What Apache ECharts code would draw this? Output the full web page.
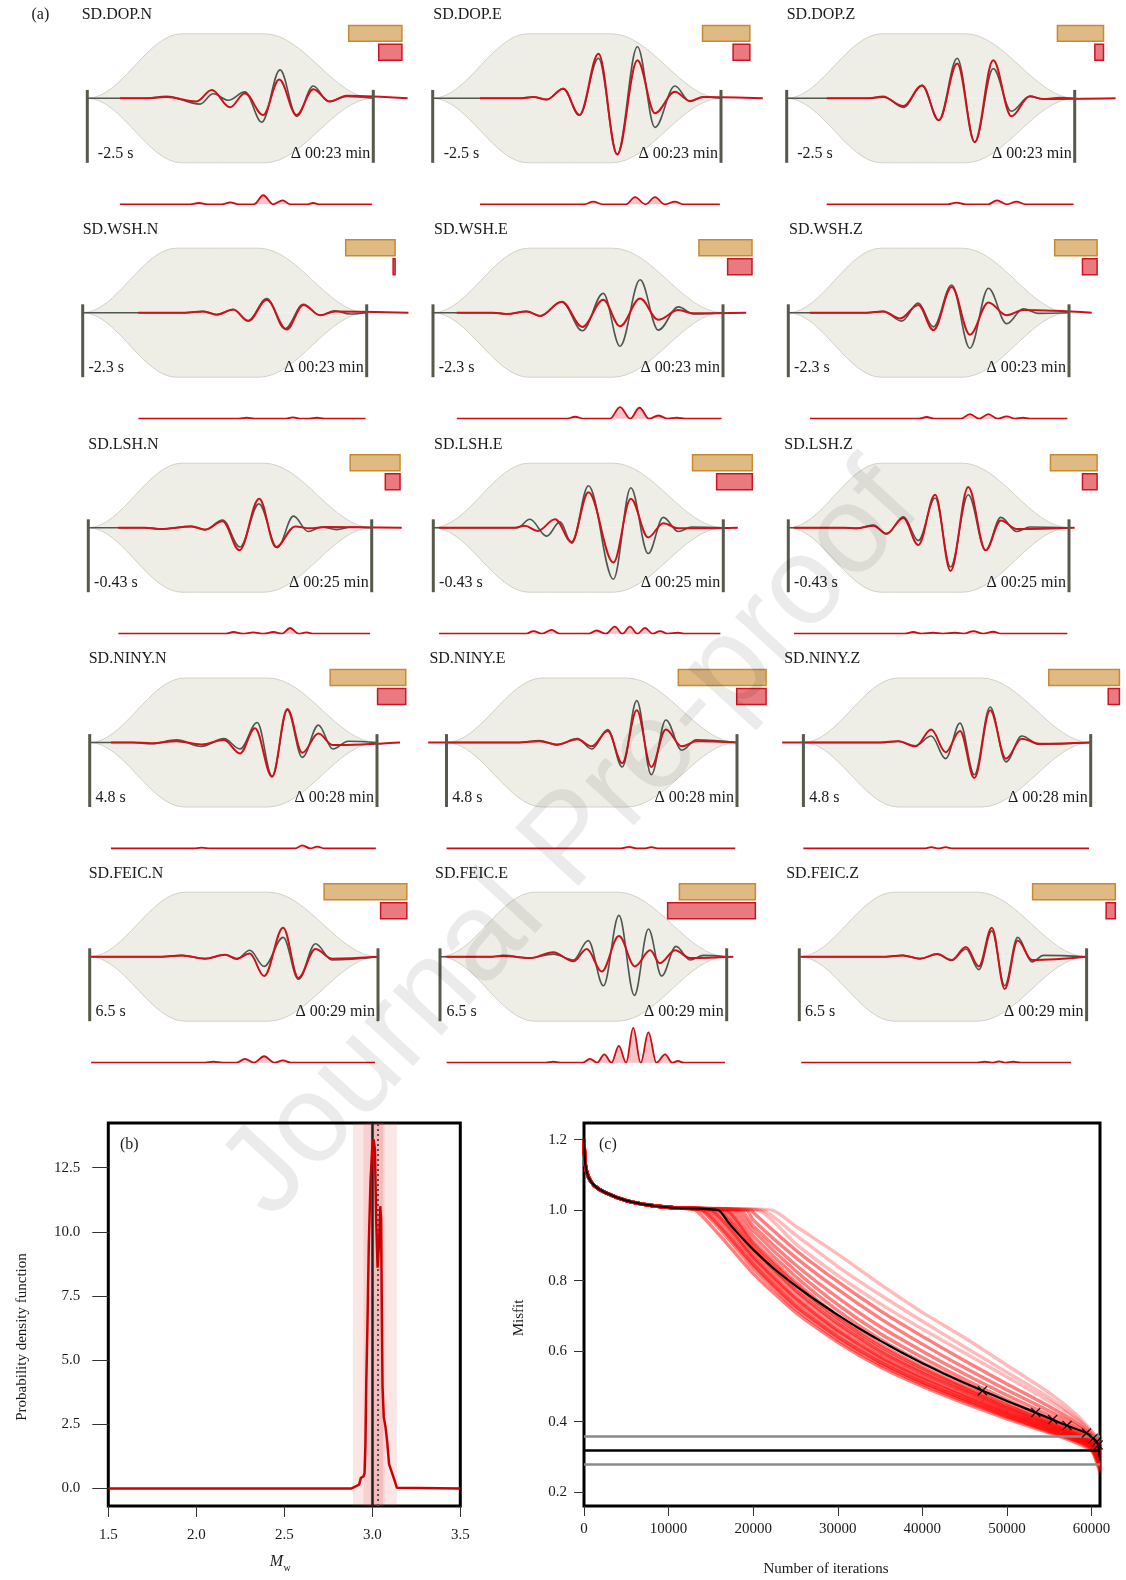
<!DOCTYPE html>
<html><head><meta charset="utf-8">
<script src="https://cdn.jsdelivr.net/npm/echarts@6/dist/echarts.min.js"></script>
<style>html,body{margin:0;padding:0;background:#fff}#c{width:1126px;height:1580px}</style>
</head><body><div id="c"></div>
<script>
// ---------------- DATA ----------------
const STATIONS = ['SD.DOP.N','SD.DOP.E','SD.DOP.Z','SD.WSH.N','SD.WSH.E','SD.WSH.Z','SD.LSH.N','SD.LSH.E','SD.LSH.Z','SD.NINY.N','SD.NINY.E','SD.NINY.Z','SD.FEIC.N','SD.FEIC.E','SD.FEIC.Z'];
const TIME_SHIFTS = ['-2.5 s','-2.5 s','-2.5 s','-2.3 s','-2.3 s','-2.3 s','-0.43 s','-0.43 s','-0.43 s','4.8 s','4.8 s','4.8 s','6.5 s','6.5 s','6.5 s'];
const DURATIONS = ['Δ 00:23 min','Δ 00:23 min','Δ 00:23 min','Δ 00:23 min','Δ 00:23 min','Δ 00:23 min','Δ 00:25 min','Δ 00:25 min','Δ 00:25 min','Δ 00:28 min','Δ 00:28 min','Δ 00:28 min','Δ 00:29 min','Δ 00:29 min','Δ 00:29 min'];
// weight (orange) and misfit (red) bar lengths, % of window
const WEIGHT_BARS = [18.6,16.4,16.0,17.4,18.3,15.1,17.6,20.6,16.6,26.3,30.2,24.6,28.7,26.5,28.8];
const MISFIT_BARS = [8.1,5.8,3.0,0.7,8.4,5.2,5.2,12.3,5.2,9.8,10.1,3.9,9.1,30.6,3.2];
// taper window (time in % of window, relative amplitude)
const TAPER_X = [-0.5,0,33,62,100,100.5];
const TAPER_Y = [0,0,1,1,0,0];

// observed (grey), synthetic (red), residual traces: [time %, amplitude]
const OBS_DOP_N = [[0,0],[20,0],[27.7,0.03],[39.4,-0.09],[44,0.07],[49.3,-0.03],[55.1,0.1],[61,-0.37],[67.4,0.44],[73.2,-0.28],[79,0.19],[84.3,-0.05],[90.7,0.03],[100,0]];
const SYN_DOP_N = [[11.4,0],[20,0],[27.7,0.02],[38.2,-0.05],[43.5,0.13],[49.9,-0.14],[55.1,0.08],[61.5,-0.26],[67.1,0.29],[73.2,-0.26],[79,0.14],[84.8,-0.05],[90.7,0.04],[112,0]];
const RES_DOP_N = [[11.4,0],[36,0],[39,0.02],[42,0],[47,0],[50,0.03],[53,0],[58.3,0],[61.5,0.14],[65,0],[68.3,0.06],[71,0],[77,0],[79,0.02],[81,0],[99.6,0]];

const OBS_DOP_E = [[0,0],[30,0],[34.9,0.02],[39.5,-0.02],[45.3,0.15],[50.9,-0.26],[57.5,0.62],[64,-0.87],[71,0.8],[77.1,-0.45],[84,0.19],[89.2,-0.05],[93.9,0.02],[100,0]];
const SYN_DOP_E = [[16.4,0],[30,0],[34.9,0.02],[39.5,-0.02],[45.3,0.15],[50.9,-0.26],[57.5,0.69],[64,-0.87],[71,0.59],[77.1,-0.23],[84,0.1],[89.2,-0.04],[93.9,0.02],[114.5,0]];
const RES_DOP_E = [[16.4,0],[52.5,0],[55.7,0.04],[59,0],[67,0],[70.2,0.11],[73.8,0],[77.1,0.11],[80.5,0],[84,0.04],[87,0],[99.6,0]];

const OBS_DOP_Z = [[0,0],[28,0],[33.5,0.03],[40.5,-0.14],[47,0.2],[52.8,-0.34],[59.2,0.62],[65.3,-0.68],[71.7,0.46],[78,-0.2],[84.4,0.03],[89,-0.01],[94.8,0.01],[100,0]];
const SYN_DOP_Z = [[13.9,0],[28,0],[33.5,0.02],[40.5,-0.12],[47,0.2],[52.8,-0.34],[59.2,0.54],[65.3,-0.68],[71.7,0.59],[78,-0.28],[84.4,0.03],[89,-0.01],[114.2,0]];
const RES_DOP_Z = [[13.9,0],[56,0],[59,0.026],[62,0],[70,0],[73,0.062],[76.4,0],[79.8,0.04],[83,0],[99.6,0]];

const OBS_WSH_N = [[0,0],[36,0],[42.5,0.02],[47.2,-0.03],[53,0.05],[58.3,-0.12],[64.8,0.22],[71.2,-0.25],[77.7,0.13],[83.6,-0.04],[88.8,0.03],[94.1,-0.02],[100,0]];
const SYN_WSH_N = [[19.6,0],[36,0],[42.5,0.02],[47.2,-0.03],[53,0.05],[58.3,-0.13],[64.8,0.2],[71.8,-0.26],[77.7,0.12],[83.6,-0.04],[88.8,0.02],[114.7,0]];
const RES_WSH_N = [[19.6,0],[55,0],[57.7,0.015],[60.5,0],[71,0],[74,0.02],[77,0],[79.8,0],[82.4,0.015],[85,0],[99.6,0]];

const OBS_WSH_E = [[0,0],[20.7,0],[25.4,-0.02],[32.3,0.02],[36.9,-0.05],[44.4,0.17],[51.5,-0.28],[58.7,0.3],[64.5,-0.52],[71.4,0.51],[77.7,-0.27],[84.6,0.09],[89.8,-0.02],[100,0]];
const SYN_WSH_E = [[8.2,0],[20.7,0],[25.4,-0.02],[32.3,0.02],[36.9,-0.05],[44.4,0.17],[51.5,-0.22],[58.7,0.2],[64.5,-0.21],[71.4,0.22],[77.7,-0.11],[84.6,0.04],[89.8,-0.01],[108,0]];
const RES_WSH_E = [[8.2,0],[46,0],[49,0.03],[52,0],[61,0],[64.5,0.18],[68,0],[71.2,0.17],[74.5,0],[77.7,0.05],[81,0],[84,0.015],[87,0],[99.5,0]];

const OBS_WSH_Z = [[0,0],[28,0],[33.8,0.02],[40.4,-0.13],[46.3,0.15],[51.7,-0.22],[58.2,0.43],[64.7,-0.55],[71.3,0.38],[77.8,-0.17],[83.7,0.06],[89,-0.01],[100,0]];
const SYN_WSH_Z = [[7.7,0],[28,0],[33.8,0.02],[39.8,-0.09],[46.3,0.12],[51.7,-0.27],[58.2,0.4],[64.7,-0.34],[71.3,0.16],[77.8,-0.04],[83.7,0.04],[108.1,0]];
const RES_WSH_Z = [[7.7,0],[46.5,0],[49.3,0.026],[52,0],[61.5,0],[64.7,0.072],[68,0],[71.3,0.072],[74.5,0],[77.8,0.036],[80.8,0],[83.7,0.015],[86,0],[99.4,0]];

const OBS_LSH_N = [[0,0],[20,0],[25.3,-0.02],[36.5,0.02],[41.2,-0.03],[47.4,0.12],[53.5,-0.3],[60.2,0.37],[66.7,-0.31],[72.4,0.18],[77.6,-0.06],[82.4,0.01],[87.6,-0.03],[93,0.01],[100,0]];
const SYN_LSH_N = [[10.6,0],[20,0],[25.3,-0.02],[36.5,0.02],[41.2,-0.03],[47.4,0.1],[53.3,-0.35],[60.3,0.45],[66.2,-0.3],[73,0.02],[78,-0.01],[84,0.01],[110.6,0]];
const RES_LSH_N = [[10.6,0],[48.5,0],[51.2,0.026],[54.5,0],[58.2,0.02],[62,0],[65.3,0.026],[68.3,0],[71.2,0.088],[74.2,0],[77,0.02],[79.5,0],[99.4,0]];

const OBS_LSH_E = [[0,0],[29,0],[33.3,0.13],[39.1,-0.13],[43.7,0.09],[47.7,-0.24],[53.5,0.65],[62.1,-0.8],[68.1,0.62],[74.1,-0.4],[79.3,0.16],[84.5,-0.06],[89.1,0.01],[100,0]];
const SYN_LSH_E = [[2,0],[28,0],[31.5,0.03],[36,-0.05],[42,0.13],[47.7,-0.22],[53.5,0.55],[62.1,-0.54],[68.1,0.45],[74.1,-0.15],[79.3,0.07],[84.5,-0.01],[105,0]];
const RES_LSH_E = [[2,0],[32,0],[34.5,0.04],[37.5,0],[40.8,0.06],[43.5,0],[53.7,0],[56.3,0.05],[59.5,0],[62.6,0.11],[65.2,0],[67.8,0.11],[70.4,0],[73,0.09],[75.6,0],[78.2,0.04],[80.8,0],[84.4,0.015],[86.5,0],[99,0]];

const OBS_LSH_Z = [[0,0],[20,0],[24.3,-0.01],[30.3,0.04],[35,-0.1],[41,0.17],[46.3,-0.2],[52.3,0.46],[57.8,-0.61],[64.1,0.51],[70.3,-0.35],[75.7,0.16],[81.4,-0.06],[86.1,0.01],[100,0]];
const SYN_LSH_Z = [[2,0],[20,0],[24.3,-0.01],[30.3,0.03],[35,-0.09],[41,0.15],[46.3,-0.27],[52.3,0.51],[57.8,-0.67],[64.1,0.63],[70.3,-0.35],[75.7,0.11],[81.4,-0.02],[102,0]];
const RES_LSH_Z = [[2,0],[41.5,0],[44.5,0.026],[47.5,0],[51.7,0.015],[55,0],[59.4,0.015],[62.5,0],[65.9,0.04],[69.5,0],[73,0.03],[76,0],[99.4,0]];

const OBS_NINY_N = [[0,0],[15,0],[21.4,-0.02],[30.2,0.04],[38.9,-0.06],[46.7,0.06],[52.3,-0.1],[58.3,0.31],[63.5,-0.52],[68.8,0.5],[74,-0.23],[79.6,0.27],[84.6,-0.1],[90,0.02],[100,0]];
const SYN_NINY_N = [[7.4,0],[15,0],[21.4,-0.01],[30.2,0.02],[38.9,-0.03],[46.7,0.04],[52.3,-0.17],[57.5,0.22],[63.5,-0.53],[68.8,0.52],[74,-0.16],[79.6,0.14],[84.6,-0.04],[108,0]];
const RES_NINY_N = [[7.4,0],[36,0],[39,0.015],[42,0],[71.5,0],[74,0.05],[76.8,0],[79.2,0.03],[81.8,0],[99.6,0]];

const OBS_NINY_E = [[0,0],[25,0],[32,0.03],[38,-0.04],[45,0.06],[50,-0.1],[55.5,0.2],[60.5,-0.38],[65.5,0.65],[70.5,-0.5],[75.5,0.35],[81,-0.12],[86,0.04],[100,0]];
const SYN_NINY_E = [[-6.3,0],[25,0],[32,0.02],[38,-0.03],[45,0.05],[50,-0.06],[55.5,0.18],[60.5,-0.32],[65.5,0.5],[70.5,-0.38],[75.5,0.2],[81,-0.06],[86,0.02],[100,0]];
const RES_NINY_E = [[0,0],[60,0],[62.8,0.025],[65.5,0],[68,0],[70.5,0.02],[73,0],[99.4,0]];

const OBS_NINY_Z = [[0,0],[27,0],[33,0.02],[39,-0.05],[44.5,0.1],[49.5,-0.25],[54.5,0.3],[59.5,-0.5],[65,0.55],[70.5,-0.3],[76,0.1],[82,-0.03],[100,0]];
const SYN_NINY_Z = [[-7.4,0],[27,0],[33,0.02],[39,-0.06],[44.5,0.2],[49.5,-0.15],[54.5,0.18],[59.5,-0.55],[65,0.5],[70.5,-0.25],[76,0.06],[82,-0.02],[100,0]];
const RES_NINY_Z = [[0,0],[42,0],[44.5,0.02],[47,0],[49.5,0.02],[52,0],[99.4,0]];

const OBS_FEIC_N = [[0,0],[25,0],[32,0.02],[40,-0.03],[47,0.03],[51,-0.04],[55.5,0.1],[60.5,-0.15],[67.1,0.3],[72.4,-0.35],[78.3,0.2],[84,-0.05],[100,0]];
const SYN_FEIC_N = [[0.5,0],[25,0],[32,0.02],[40,-0.03],[47,0.03],[51,-0.03],[55.5,0.05],[60.5,-0.3],[67.1,0.45],[72.4,-0.33],[78.3,0.12],[84,-0.03],[100,0]];
const RES_FEIC_N = [[0.5,0],[40,0],[43,0.015],[46,0],[51,0],[53.8,0.06],[57,0],[60.5,0.1],[64,0],[67,0.035],[70,0],[99,0]];

const OBS_FEIC_E = [[0,0],[18,0],[22.1,0.02],[31.4,-0.02],[39.5,0.04],[46.5,-0.05],[51.7,0.25],[57,-0.45],[62.4,0.64],[67.8,-0.6],[72.7,0.43],[77.3,-0.3],[82.3,0.16],[87.2,-0.05],[91.9,0.02],[100,0]];
const SYN_FEIC_E = [[2.3,0],[18,0],[22.1,0.01],[31.4,-0.02],[39.5,0.07],[46.5,-0.07],[51.2,0.12],[56.4,-0.23],[62.4,0.32],[68,-0.15],[73.3,0.1],[76.7,-0.1],[82,0.1],[87.2,-0.02],[102.3,0]];
const RES_FEIC_E = [[2.3,0],[37,0],[39.5,0.015],[42,0],[49.8,0],[52.3,0.06],[54.8,0],[57.3,0.13],[59.8,0],[62.4,0.26],[64.9,0],[67.4,0.54],[70,0],[72.7,0.47],[75.5,0],[78.5,0.13],[81,0],[83,0.026],[85,0],[99.4,0]];

const OBS_FEIC_Z = [[0,0],[30,0],[36,0.02],[42,-0.03],[48,0.04],[53,-0.06],[58,0.12],[62.5,-0.2],[67,0.4],[71.5,-0.45],[76,0.3],[81,-0.08],[85,0.02],[100,0]];
const SYN_FEIC_Z = [[0.7,0],[30,0],[36,0.02],[42,-0.03],[48,0.04],[53,-0.05],[58,0.15],[62.5,-0.15],[67,0.45],[71.5,-0.5],[76,0.25],[81,-0.05],[100,0]];
const RES_FEIC_Z = [[0.7,0],[62,0],[64.5,0.015],[67,0],[69.5,0.02],[72,0],[74.5,0.015],[77,0],[94.6,0]];

// (b) magnitude PDF
const MW_VALUES  = [1.5,2.88,2.905,2.925,2.935,2.95,2.956,2.961,2.966,2.972,2.98,2.99,3.0,3.008,3.015,3.022,3.03,3.038,3.045,3.05,3.054,3.058,3.065,3.075,3.085,3.095,3.11,3.125,3.14,3.15,3.5];
const PDF_VALUES = [0,0,0.08,0.15,0.42,0.47,0.6,1.7,4.2,6.2,9.5,12,13.3,13.6,13.2,10.5,8.6,9.5,11,10.5,7,4,2.8,2.4,1.8,0.95,0.65,0.35,0.03,0,0];
const MW_BANDS = [[2.89,3.14],[2.95,3.07],[2.99,3.06]];
const MW_BEST = 3.0;
const MW_MEAN = 3.03;

// (c) misfit evolution
const HEAD_ITER = [0,150,500,1200,2500,5000,8000,11000];
const HEAD_MISFIT = [1.2,1.13,1.095,1.07,1.05,1.027,1.013,1.006];
const CHAIN_GRID = [20000,25000,30000,35000,40000,45000,50000,55000,58000,60000,61000];
const CHAIN_ONSETS = [13200,13800,14000,14300,14800,15000,15300,15800,16000,16500,16800,17000,17500,18000,18500,19200,19800,20500,21000,22200];
const CHAIN_MISFITS = [
  [0.82,0.71,0.625,0.555,0.5,0.452,0.408,0.368,0.342,0.318,0.255],
  [0.835,0.72,0.632,0.562,0.506,0.458,0.413,0.372,0.346,0.322,0.265],
  [0.845,0.728,0.64,0.568,0.511,0.462,0.416,0.374,0.348,0.324,0.27],
  [0.848,0.732,0.642,0.57,0.513,0.464,0.418,0.376,0.35,0.326,0.275],
  [0.86,0.743,0.652,0.578,0.52,0.47,0.423,0.38,0.354,0.33,0.28],
  [0.866,0.75,0.658,0.583,0.524,0.473,0.426,0.382,0.355,0.331,0.285],
  [0.872,0.755,0.662,0.587,0.528,0.477,0.428,0.384,0.357,0.333,0.29],
  [0.884,0.768,0.673,0.596,0.536,0.484,0.434,0.388,0.36,0.336,0.3],
  [0.89,0.773,0.678,0.6,0.539,0.487,0.436,0.39,0.361,0.337,0.298],
  [0.898,0.782,0.686,0.607,0.545,0.492,0.44,0.393,0.364,0.34,0.305],
  [0.905,0.79,0.694,0.614,0.551,0.496,0.444,0.396,0.366,0.341,0.308],
  [0.912,0.797,0.7,0.62,0.556,0.5,0.447,0.398,0.368,0.343,0.31],
  [0.927,0.812,0.715,0.634,0.568,0.51,0.454,0.403,0.372,0.346,0.315],
  [0.942,0.828,0.732,0.65,0.582,0.52,0.462,0.408,0.376,0.349,0.32],
  [0.955,0.845,0.752,0.67,0.6,0.535,0.475,0.418,0.383,0.353,0.325],
  [0.972,0.866,0.775,0.693,0.62,0.553,0.49,0.43,0.392,0.358,0.33],
  [0.993,0.887,0.797,0.715,0.642,0.573,0.507,0.443,0.4,0.362,0.335],
  [null,0.905,0.815,0.735,0.663,0.595,0.527,0.458,0.41,0.367,0.34],
  [null,0.93,0.84,0.76,0.685,0.612,0.54,0.468,0.415,0.37,0.34],
  [null,0.955,0.875,0.79,0.71,0.638,0.56,0.482,0.425,0.375,0.345]
];
const BEST_ITER = [15900,17000,18000,19000,20000,22500,25000,27500,30000,32500,35000,37500,40000,42500,45000,47100,50000,53000,55000,57000,59400,60200,60600,60800,61000];
const BEST_MISFIT = [1.0,0.967,0.939,0.913,0.888,0.833,0.786,0.743,0.703,0.665,0.63,0.597,0.566,0.537,0.51,0.488,0.459,0.43,0.41,0.39,0.368,0.353,0.343,0.334,0.29];
const MARK_ITER = [47100,53400,55400,57100,59400,60200,60600,60800];
const MARK_MISFIT = [0.488,0.426,0.406,0.389,0.368,0.353,0.343,0.334];
const THRESHOLDS = [0.363,0.323,0.284];

// ---------------- LAYOUT ----------------
const PANEL_OBS = [OBS_DOP_N,OBS_DOP_E,OBS_DOP_Z,OBS_WSH_N,OBS_WSH_E,OBS_WSH_Z,OBS_LSH_N,OBS_LSH_E,OBS_LSH_Z,OBS_NINY_N,OBS_NINY_E,OBS_NINY_Z,OBS_FEIC_N,OBS_FEIC_E,OBS_FEIC_Z];
const PANEL_SYN = [SYN_DOP_N,SYN_DOP_E,SYN_DOP_Z,SYN_WSH_N,SYN_WSH_E,SYN_WSH_Z,SYN_LSH_N,SYN_LSH_E,SYN_LSH_Z,SYN_NINY_N,SYN_NINY_E,SYN_NINY_Z,SYN_FEIC_N,SYN_FEIC_E,SYN_FEIC_Z];
const PANEL_RES = [RES_DOP_N,RES_DOP_E,RES_DOP_Z,RES_WSH_N,RES_WSH_E,RES_WSH_Z,RES_LSH_N,RES_LSH_E,RES_LSH_Z,RES_NINY_N,RES_NINY_E,RES_NINY_Z,RES_FEIC_N,RES_FEIC_E,RES_FEIC_Z];
const LAYOUT = [
 {l:87.3,r:373.3,b:98.3,tx:81.7,sx:10.5},{l:432.7,r:721,b:98.3,tx:433.3,sx:11},{l:786.7,r:1074.7,b:98.3,tx:786.7,sx:10.5},
 {l:82.7,r:366.7,b:312.7,tx:82.7,sx:5.8},{l:433,r:723,b:312.7,tx:434,sx:5.8},{l:788.3,r:1069,b:312.7,tx:789,sx:5.8},
 {l:88.3,r:371.7,b:527.7,tx:88.3,sx:5.8},{l:433.3,r:723.3,b:527.7,tx:434,sx:5.8},{l:788.3,r:1069,b:527.7,tx:784.3,sx:5.8},
 {l:89.7,r:377,b:742.5,tx:88.7,sx:5.8},{l:446.5,r:737,b:742.5,tx:429.4,sx:5.8},{l:803.4,r:1090.7,b:742.5,tx:784.2,sx:5.8},
 {l:89.7,r:378,b:956.7,tx:88.7,sx:5.8},{l:440,r:726.7,b:956.7,tx:435,sx:6.5},{l:799.3,r:1086.6,b:956.7,tx:786.2,sx:5.8}
];
const SERIF = '"Liberation Serif","Times New Roman",serif';
const U = 64.5;           // px per amplitude unit
const X0 = -12;           // left time extent of each panel grid (%)
const Y0 = -1.2, Y1 = 1.3;
const RY1 = 0.7;          // residual grid extent

const grids = [], xAxes = [], yAxes = [], series = [], graphics = [];
function txt(x, y, text, size, align, extra) {
  graphics.push(Object.assign({type:'text', x, y, silent:true, z:50,
    style:{text, font: size + 'px ' + SERIF, fill:'#1a1a1a', textAlign:align||'left', align:align||'left', textVerticalAlign:'middle', verticalAlign:'middle'}}, extra||{}));
}
function addGrid(g, x, y) { grids.push(g); const i = grids.length - 1; xAxes.push(Object.assign({gridIndex:i}, x)); yAxes.push(Object.assign({gridIndex:i}, y)); return i; }

const taper = TAPER_X.map((x,k)=>[x, TAPER_Y[k]]);
const taperNeg = TAPER_X.map((x,k)=>[x, -TAPER_Y[k]]);
const smoothLine = (gi, data, color, width, z, extra) => Object.assign({type:'line', xAxisIndex:gi, yAxisIndex:gi, data, smooth:0.36, smoothMonotone:'x', symbol:'none', silent:true, lineStyle:{color, width}, z}, extra||{});

STATIONS.forEach((name, i) => {
  const L = LAYOUT[i], s = (L.r - L.l) / 100;
  const X1 = Math.min(118, (1125 - L.l) / s);
  const gi = addGrid({left: L.l + X0*s, width:(X1-X0)*s, top: L.b - Y1*U, height:(Y1-Y0)*U},
    {type:'value', min:X0, max:X1, show:false}, {type:'value', min:Y0, max:Y1, show:false});
  const envColor = '#d3d2c8';
  series.push(smoothLine(gi, taper, envColor, 1, 1, {areaStyle:{color:'#efeee6', opacity:1}}));
  series.push(smoothLine(gi, taperNeg, envColor, 1, 1, {areaStyle:{color:'#efeee6', opacity:1}}));
  series.push(smoothLine(gi, PANEL_OBS[i], '#4d5750', 1.6, 3));
  series.push(smoothLine(gi, PANEL_SYN[i], '#d0101a', 2, 4));
  series.push({type:'custom', xAxisIndex:gi, yAxisIndex:gi, silent:true, z:6,
    data:[[WEIGHT_BARS[i], MISFIT_BARS[i]]],
    renderItem:(p, api) => {
      const w = api.value(0), m = api.value(1);
      const c = (x,y) => api.coord([x,y]);
      const a0 = c(0,0.13), a1 = c(0,-1.0), b0 = c(100,0.13), b1 = c(100,-1.0);
      const o0 = c(110-w,1.13), o1 = c(110,0.884), r0 = c(110-m,0.837), r1 = c(110,0.59);
      return {type:'group', children:[
        {type:'line', shape:{x1:a0[0],y1:a0[1],x2:a1[0],y2:a1[1]}, style:{stroke:'#575a4b', lineWidth:3}},
        {type:'line', shape:{x1:b0[0],y1:b0[1],x2:b1[0],y2:b1[1]}, style:{stroke:'#575a4b', lineWidth:3}},
        {type:'rect', shape:{x:o0[0], y:o0[1], width:o1[0]-o0[0], height:o1[1]-o0[1]}, style:{fill:'#dfba85', stroke:'#c98a2e', lineWidth:1.5}},
        {type:'rect', shape:{x:r0[0], y:r0[1], width:Math.max(r1[0]-r0[0],1), height:r1[1]-r0[1]}, style:{fill:'#e87a80', stroke:'#cc1424', lineWidth:1.5}}
      ]};
    }});
  const resBase = L.b + 106;
  const ri = addGrid({left: L.l + X0*s, width:(X1-X0)*s, top: resBase - RY1*U, height: RY1*U},
    {type:'value', min:X0, max:X1, show:false}, {type:'value', min:0, max:RY1, show:false});
  series.push(smoothLine(ri, PANEL_RES[i], '#cc0b14', 1.8, 3, {areaStyle:{color:'rgba(232,100,110,0.55)'}}));
  txt(L.tx, L.b - 83.3, name, 16);
  txt(L.l + L.sx, L.b + 55.5, TIME_SHIFTS[i], 16);
  txt(L.r - 3, L.b + 55.5, DURATIONS[i], 16, 'right');
});
txt(31.5, 15, '(a)', 16);

// ---------------- (b) ----------------
const labelStyle = {color:'#1a1a1a', fontFamily:SERIF, fontSize:15};
const gb = addGrid({left:108.3, top:1123, width:352, height:383, show:true, borderColor:'#000', borderWidth:3, backgroundColor:'transparent'},
  {type:'value', min:1.5, max:3.5, axisLine:{show:false, onZero:false}, splitLine:{show:false},
   axisTick:{show:true, length:11, lineStyle:{color:'#333'}, customValues:[1.5,2.0,2.5,3.0,3.5]},
   axisLabel:Object.assign({margin:22, customValues:[1.5,2.0,2.5,3.0,3.5], formatter:v=>v.toFixed(1)}, labelStyle)},
  {type:'value', min:-0.68, max:14.24, axisLine:{show:false, onZero:false}, splitLine:{show:false},
   axisTick:{show:true, length:16, lineStyle:{color:'#333'}, customValues:[0,2.5,5,7.5,10,12.5]},
   axisLabel:Object.assign({margin:28, customValues:[0,2.5,5,7.5,10,12.5], formatter:v=>v.toFixed(1)}, labelStyle)});
series.push({type:'line', xAxisIndex:gb, yAxisIndex:gb, data: MW_VALUES.map((m,k)=>[m, PDF_VALUES[k]]),
  symbol:'none', silent:true, z:5, lineStyle:{color:'#cc0000', width:2.5},
  markArea:{silent:true, itemStyle:{color:'rgba(225,60,60,0.13)'}, data: MW_BANDS.map(b=>[{xAxis:b[0]},{xAxis:b[1]}])},
  markLine:{silent:true, symbol:'none', label:{show:false}, animation:false, data:[
    {xAxis:MW_BEST, lineStyle:{color:'#222', width:2.5, type:'solid'}},
    {xAxis:MW_MEAN, lineStyle:{color:'#6a4a4a', width:2, type:[2,3]}}]}});
txt(120, 1144.5, '(b)', 16);
graphics.push({type:'text', x:22, y:1337, rotation:Math.PI/2, silent:true, style:{text:'Probability density function', font:'15px '+SERIF, fill:'#1a1a1a', textAlign:'center', align:'center', textVerticalAlign:'middle', verticalAlign:'middle'}});
graphics.push({type:'text', x:283, y:1562, silent:true, style:{text:'M', font:'italic 16px '+SERIF, fill:'#1a1a1a', textAlign:'right', align:'right', textVerticalAlign:'middle', verticalAlign:'middle'}});
graphics.push({type:'text', x:283.5, y:1568, silent:true, style:{text:'w', font:'10px '+SERIF, fill:'#1a1a1a', textAlign:'left', align:'left', textVerticalAlign:'middle', verticalAlign:'middle'}});

// ---------------- (c) ----------------
const gc = addGrid({left:584, top:1123, width:516, height:383, show:true, borderColor:'#000', borderWidth:3, backgroundColor:'transparent'},
  {type:'value', min:0, max:61000, axisLine:{show:false, onZero:false}, splitLine:{show:false},
   axisTick:{show:true, length:10, lineStyle:{color:'#333'}, customValues:[0,10000,20000,30000,40000,50000,60000]},
   axisLabel:Object.assign({margin:16, customValues:[0,10000,20000,30000,40000,50000,60000], formatter:v=>String(v)}, labelStyle)},
  {type:'value', min:0.161, max:1.247, axisLine:{show:false, onZero:false}, splitLine:{show:false},
   axisTick:{show:true, length:10, lineStyle:{color:'#333'}, customValues:[0.2,0.4,0.6,0.8,1.0,1.2]},
   axisLabel:Object.assign({margin:17, customValues:[0.2,0.4,0.6,0.8,1.0,1.2], formatter:v=>v.toFixed(1)}, labelStyle)});
const head = HEAD_ITER.map((it,k)=>[it, HEAD_MISFIT[k]]);
CHAIN_ONSETS.forEach((on, k) => {
  const pts = head.concat([[on, 1.0]]);
  CHAIN_GRID.forEach((it, j) => { const v = CHAIN_MISFITS[k][j]; if (v != null && it > on) pts.push([it, v]); });
  const pale = on >= 20500;
  series.push({type:'line', xAxisIndex:gc, yAxisIndex:gc, data:pts, smooth:0.2, symbol:'none', silent:true, z:2,
    lineStyle:{color: pale ? 'rgba(255,30,30,0.3)' : 'rgba(255,0,0,0.5)', width:3.4}});
});
series.push({type:'line', xAxisIndex:gc, yAxisIndex:gc, data:[], silent:true, z:3,
  markLine:{silent:true, symbol:'none', label:{show:false}, animation:false, data:[
    {yAxis:THRESHOLDS[0], lineStyle:{color:'#8a8a8a', width:2.5, type:'solid'}},
    {yAxis:THRESHOLDS[1], lineStyle:{color:'#000', width:2.5, type:'solid'}},
    {yAxis:THRESHOLDS[2], lineStyle:{color:'#8a8a8a', width:2.5, type:'solid'}}]}});
series.push({type:'line', xAxisIndex:gc, yAxisIndex:gc, data: head.concat(BEST_ITER.map((it,k)=>[it, BEST_MISFIT[k]])),
  smooth:0.2, symbol:'none', silent:true, z:4, lineStyle:{color:'#000', width:2.2}});
series.push({type:'scatter', xAxisIndex:gc, yAxisIndex:gc, data: MARK_ITER.map((it,k)=>[it, MARK_MISFIT[k]]), silent:true, z:5,
  symbol:'path://M0,1L1,0L5,4L9,0L10,1L6,5L10,9L9,10L5,6L1,10L0,9L4,5Z', symbolSize:10, itemStyle:{color:'#000'}});
txt(599, 1145, '(c)', 16);
graphics.push({type:'text', x:519, y:1318, rotation:Math.PI/2, silent:true, style:{text:'Misfit', font:'15px '+SERIF, fill:'#1a1a1a', textAlign:'center', align:'center', textVerticalAlign:'middle', verticalAlign:'middle'}});
txt(826, 1569, 'Number of iterations', 15, 'center');

// watermark
graphics.push({type:'text', x:572, y:842, rotation:47.5*Math.PI/180, silent:true, z:100,
  style:{text:'Journal Pre-proof', font:'125px "Liberation Sans",Arial,sans-serif', fill:'rgba(0,0,0,0.08)', textAlign:'center', align:'center', textVerticalAlign:'middle', verticalAlign:'middle'}});

const chart = echarts.init(document.getElementById('c'), null, {renderer:'canvas', width:1126, height:1580});
chart.setOption({animation:false, backgroundColor:'#fff', grid:grids, xAxis:xAxes, yAxis:yAxes, series, graphic:graphics});
</script></body></html>
